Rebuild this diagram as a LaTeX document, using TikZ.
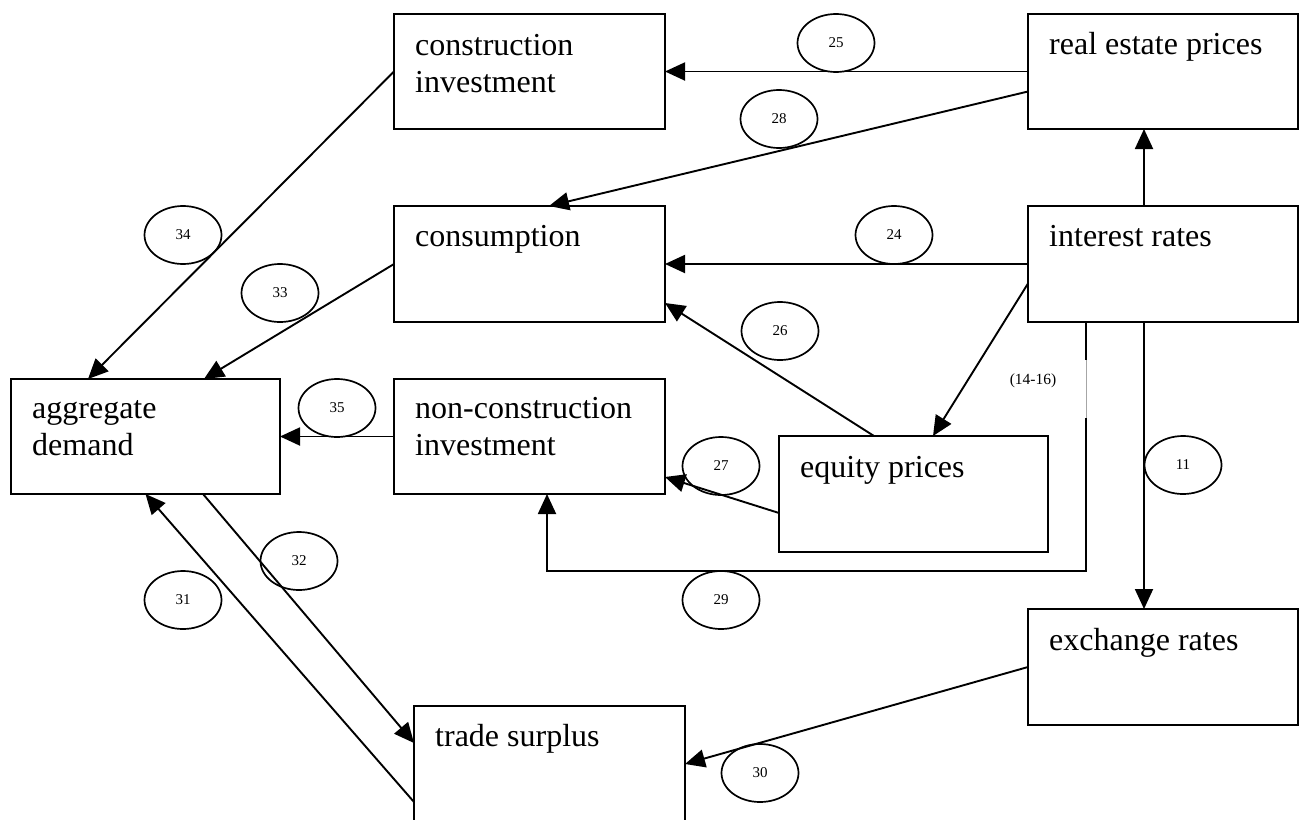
\documentclass[tikz,border=0pt]{standalone}
\usepackage{fontspec}
\setmainfont{Liberation Serif}
\usetikzlibrary{arrows.meta,calc,shapes.geometric}
\begin{document}
\begin{tikzpicture}[x=1pt,y=-1pt,
  box/.style={draw, line width=2pt, minimum width=270pt, minimum height=115pt, anchor=north west, inner sep=0pt, outer sep=0pt},
  lbl/.style={anchor=base west, align=left, inner sep=0pt, font=\fontsize{32}{37}\selectfont},
  num/.style={draw, ellipse, line width=1.7pt, minimum width=77pt, minimum height=58pt, inner sep=0pt, font=\fontsize{15}{18}\selectfont},
  link/.style={line width=1.9pt},
  arr/.style={link, -{Triangle[length=20pt,width=18pt]}},
]
\useasboundingbox (0,0) rectangle (1306,819);
% boxes
\node[box, minimum width=271pt] (ci) at (394,14) {};
\node[box] (re) at (1028,14) {};
\node[box, minimum width=271pt, minimum height=116pt] (cons) at (394,206) {};
\node[box, minimum height=116pt] (ir) at (1028,206) {};
\node[box, minimum width=269pt] (ad) at (11,379) {};
\node[box, minimum width=271pt] (nci) at (394,379) {};
\node[box, minimum width=269pt, minimum height=116pt] (eq) at (779,436) {};
\node[box, minimum height=116pt] (exr) at (1028,609) {};
\node[box, minimum width=271pt, minimum height=116pt] (ts) at (414,706) {};
% box texts (base of a two-line node is its last line)
\node[lbl] (cit) at ($(ci.north west)+(21,78)$) {construction\\investment};
\node[lbl] (ret) at ($(re.north west)+(21,40)$) {real estate prices};
\node[lbl] (const) at ($(cons.north west)+(21,40)$) {consumption};
\node[lbl] (irt) at ($(ir.north west)+(21,40)$) {interest rates};
\node[lbl] (adt) at ($(ad.north west)+(21,76)$) {aggregate\\demand};
\node[lbl] (ncit) at ($(nci.north west)+(21,76)$) {non-construction\\investment};
\node[lbl] (eqt) at ($(eq.north west)+(21,41)$) {equity prices};
\node[lbl] (exrt) at ($(exr.north west)+(21,41)$) {exchange rates};
\node[lbl] (tst) at ($(ts.north west)+(21,40)$) {trade surplus};
% connectors
\draw[arr] (re.west) -- (ci.east);
\draw[arr] ([yshift=-20pt]re.west) -- ([xshift=155pt]cons.north west);
\draw[arr] ([xshift=-19pt]ir.north) -- ([xshift=-19pt]re.south);
\draw[arr] (ir.west) -- (cons.east);
\draw[arr] ([yshift=-19.5pt]ir.west) -- ([xshift=19.5pt]eq.north);
\draw[arr] ([xshift=-39.5pt]eq.north) -- ([yshift=-39pt]cons.east);
\draw[arr] ([yshift=-19pt]eq.west) -- ([yshift=-40.5pt]nci.east);
\coordinate (g1) at (1086,360);
\coordinate (g2) at (1086,418);
\coordinate (c29) at (1086,571);
\draw[link] ([xshift=-77pt]ir.south) -- (g1);
\draw[gray!70, line width=0.6pt] (g1) -- (g2);
\draw[arr] (g2) -- (c29) -| ([xshift=17.5pt]nci.south);
\draw[arr] ([xshift=-19pt]ir.south) -- ([xshift=-19pt]exr.north);
\draw[arr] (exr.west) -- (ts.east);
\draw[arr] (ci.west) -- ([xshift=77pt]ad.north west);
\draw[arr] (cons.west) -- ([xshift=193pt]ad.north west);
\draw[arr] (nci.west) -- (ad.east);
\draw[arr] ([xshift=57.5pt]ad.south) -- ([yshift=21pt]ts.west);
\draw[arr] ([yshift=-38pt]ts.west) -- (ad.south);
% number ellipses
\node[num] (n25) at (836,43) {25};
\node[num] (n28) at (779,119) {28};
\node[num] (n34) at (183,235) {34};
\node[num] (n24) at (894,235) {24};
\node[num] (n33) at (280,293) {33};
\node[num] (n26) at (780,331) {26};
\node[num] (n35) at (337,408) {35};
\node[num] (n27) at (721,466) {27};
\node[num] (n11) at (1183,465) {11};
\node[num] (n32) at (299,561) {32};
\node[num] (n31) at (183,600) {31};
\node[num] (n29) at (721,600) {29};
\node[num] (n30) at (760,773) {30};
\node[font=\fontsize{15.5}{18}\selectfont] (r1416) at (1033,381) {(14-16)};
\end{tikzpicture}
\end{document}
